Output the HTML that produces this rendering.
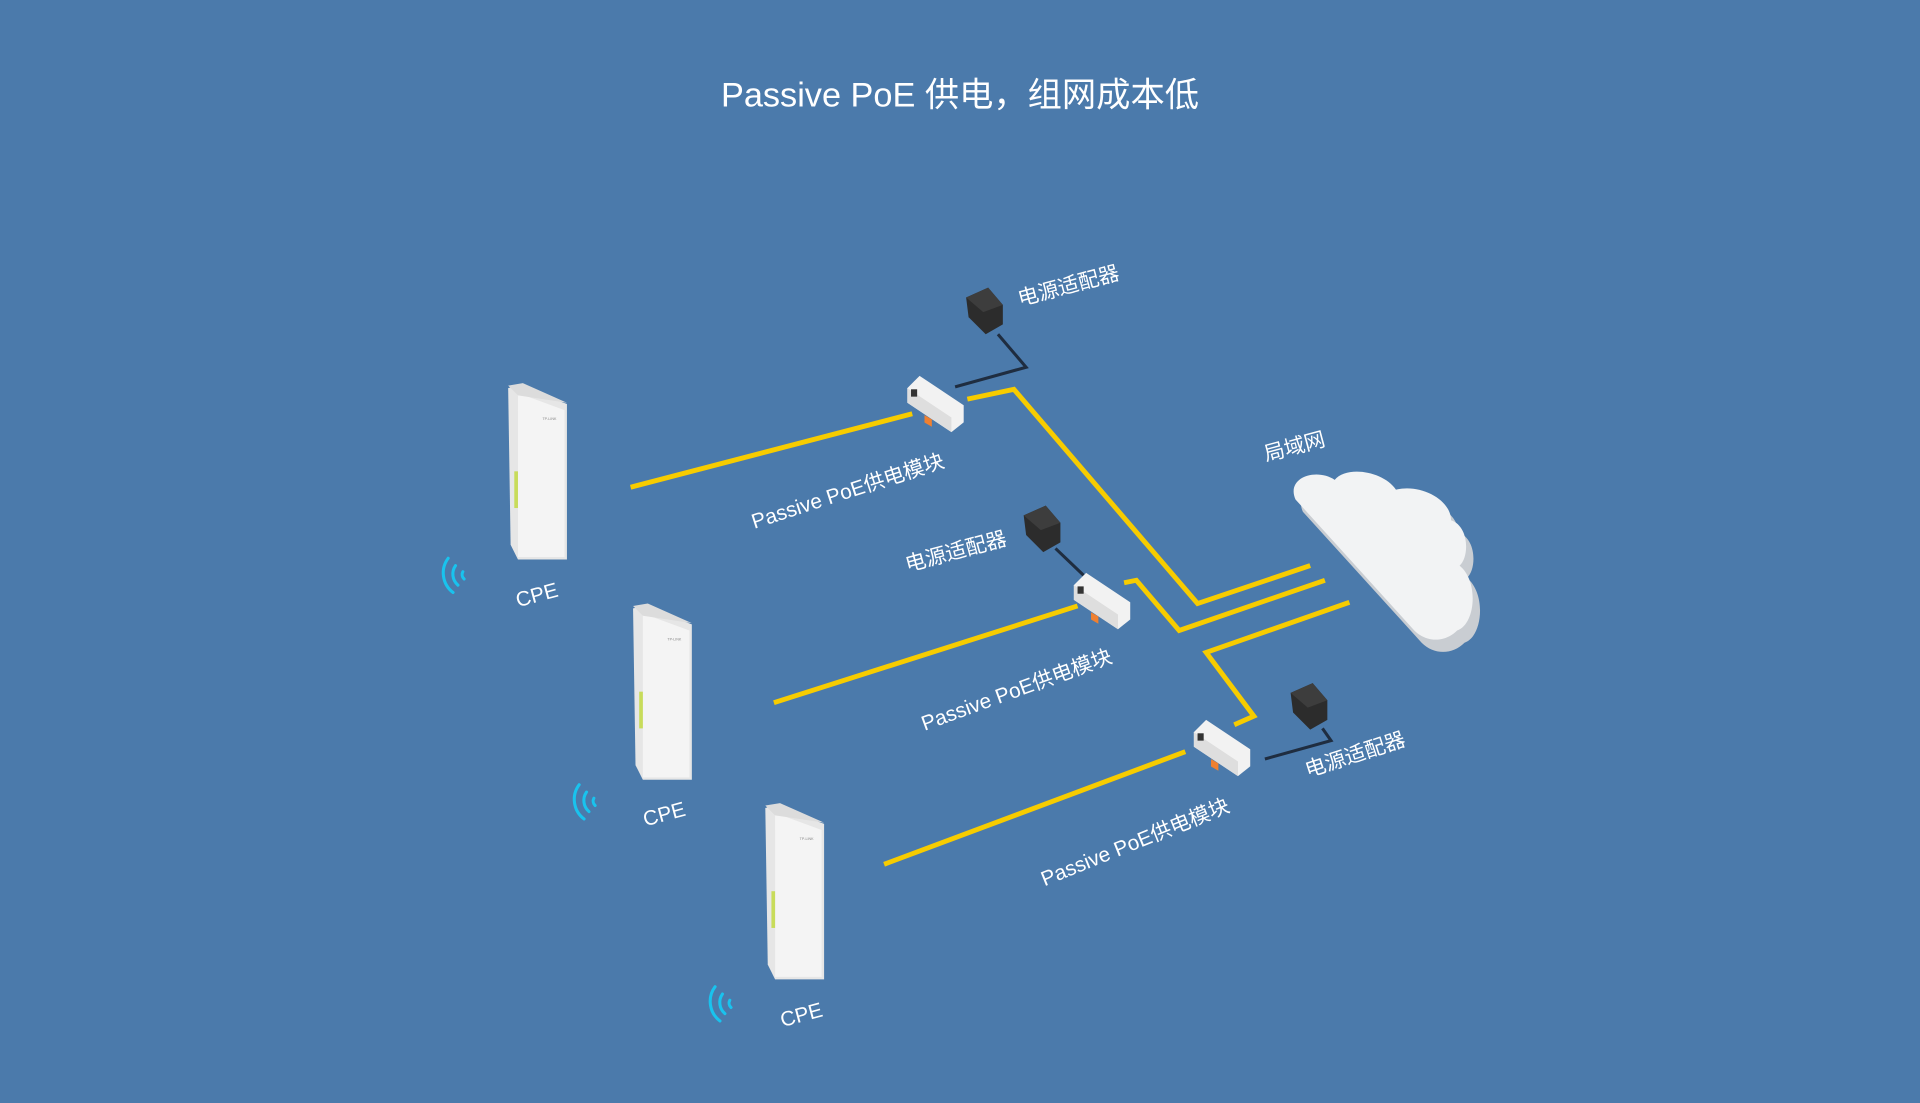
<!DOCTYPE html>
<html><head><meta charset="utf-8"><style>
html,body{margin:0;padding:0;background:#4b7aab;}
svg{display:block;}
text{font-family:"Liberation Sans","Noto Sans CJK SC",sans-serif;fill:#fff;}
</style></head><body>
<svg width="1920" height="1103" viewBox="0 0 1568 901" preserveAspectRatio="none" xmlns="http://www.w3.org/2000/svg">
<rect width="1568" height="901" fill="#4b7aab"/>
<text x="784" y="87" font-size="28" text-anchor="middle">Passive PoE 供电，组网成本低</text>
<defs>
<g id="cpe">
<polygon points="0,2 8,0 48,15 48,142 8,142 2,130" fill="#e6e6e6"/>
<polygon points="8,6 46,20 46,140 8,140" fill="#f4f4f4"/>
<polygon points="0,0 12,-2 48,14 8,8" fill="#dcdcdc"/>
<rect x="5" y="70" width="3" height="30" fill="#c8dc5a"/>
<text x="28" y="28" font-size="3" fill="#888" style="fill:#888">TP-LINK</text>
</g>
<g id="wifi" fill="none" stroke="#19c3ee" stroke-width="2.5" stroke-linecap="round">
<path d="M14,-14 A20,20 0 0 0 18,14"/>
<path d="M20,-8 A12,12 0 0 0 22,8"/>
<path d="M26,-3 A5,5 0 0 0 27,3"/>
</g>
<g id="mod">
<polygon points="0,10 10,0 46,24 46,38 36,46 0,22" fill="#f2f2f2"/>
<polygon points="0,10 36,34 36,46 0,22" fill="#dedede"/>
<rect x="14" y="24" width="6" height="6" fill="#f08030" transform="skewY(30)"/>
<rect x="3" y="11" width="5" height="6" fill="#333"/>
</g>
<g id="adp">
<polygon points="0,8 18,0 30,14 30,30 16,38 2,24" fill="#2c2c2c"/>
<polygon points="0,8 18,0 30,14 14,20" fill="#3d3d3d"/>
</g>
</defs>
<!-- yellow lines -->
<g fill="none" stroke="#f7cc00" stroke-width="4">
<line x1="515" y1="398" x2="745" y2="338"/>
<polyline points="790,326 828,318 978,493 1070,462"/>
<line x1="632" y1="574" x2="880" y2="495"/>
<polyline points="918,476 928,474 963,515 1082,474"/>
<line x1="722" y1="706" x2="968" y2="614"/>
<polyline points="1008,592 1024,585 985,533 1102,492"/>
</g>
<g fill="none" stroke="#1f2d40" stroke-width="2.5">
<polyline points="815,273 838,300 780,316"/>
<line x1="862" y1="448" x2="885" y2="470"/>
<polyline points="1080,595 1087,605 1033,620"/>
</g>
<!-- cloud -->
<g>
<path d="M1058,408 C1050,390 1075,382 1090,392 C1100,380 1130,385 1140,400 C1160,395 1185,408 1185,425 C1200,430 1200,455 1192,462 C1208,475 1205,510 1190,515 C1180,525 1165,525 1155,515 Z" fill="#c9cdd2" transform="translate(6,10)"/>
<path d="M1058,408 C1050,390 1075,382 1090,392 C1100,380 1130,385 1140,400 C1160,395 1185,408 1185,425 C1200,430 1200,455 1192,462 C1208,475 1205,510 1190,515 C1180,525 1165,525 1155,515 Z" fill="#f2f3f4"/>
</g>
<use href="#cpe" x="415" y="315"/>
<use href="#cpe" x="517" y="495"/>
<use href="#cpe" x="625" y="658"/>
<use href="#wifi" x="352" y="470"/>
<use href="#wifi" x="459" y="655"/>
<use href="#wifi" x="570" y="820"/>
<use href="#mod" x="741" y="307"/>
<use href="#mod" x="877" y="468"/>
<use href="#mod" x="975" y="588"/>
<use href="#adp" x="789" y="235"/>
<use href="#adp" x="836" y="413"/>
<use href="#adp" x="1054" y="558"/>
<g font-size="17">
<text transform="translate(423,496) rotate(-15)">CPE</text>
<text transform="translate(527,675) rotate(-15)">CPE</text>
<text transform="translate(639,839) rotate(-15)">CPE</text>
<text transform="translate(833,250) rotate(-15)">电源适配器</text>
<text transform="translate(741,467) rotate(-15)">电源适配器</text>
<text transform="translate(1068,635) rotate(-18)">电源适配器</text>
<text transform="translate(1034,377) rotate(-15)">局域网</text>
<text transform="translate(616,432) rotate(-18)">Passive PoE供电模块</text>
<text transform="translate(755,597) rotate(-20)">Passive PoE供电模块</text>
<text transform="translate(853,724) rotate(-22)">Passive PoE供电模块</text>
</g>
</svg>
</body></html>
